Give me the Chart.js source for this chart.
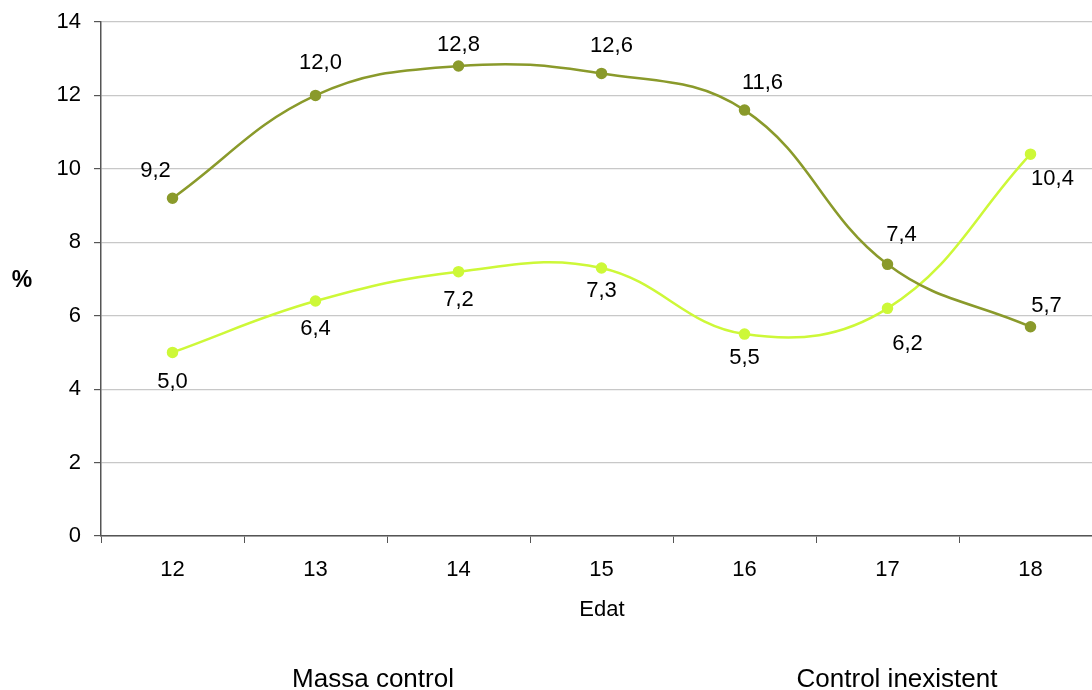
<!DOCTYPE html>
<html>
<head>
<meta charset="utf-8">
<script src="https://cdn.jsdelivr.net/npm/chart.js@4"></script>
<style>
    html, body { margin: 0; padding: 0; background: #fff; overflow: hidden; }
    #wrap { width: 1092px; height: 690px; overflow: hidden; position: relative; }
    canvas { display: block; }
</style>
</head>
<body>
<div id="wrap"><canvas id="chart" width="1110" height="690"></canvas></div>
<script>
// data
const ages = ['12', '13', '14', '15', '16', '17', '18'];
const massaControl = [9.2, 12.0, 12.8, 12.6, 11.6, 7.4, 5.7];
const controlInexistent = [5.0, 6.4, 7.2, 7.3, 5.5, 6.2, 10.4];
const yTicks = [0, 2, 4, 6, 8, 10, 12, 14];

const FONT = 'Arial, "Liberation Sans", sans-serif';

// small nudges for the value labels (excel had them moved around by hand)
const labelNudge = [
    [[-17, -27], [5, -32], [0, -21], [10, -27], [18, -27], [14, -29], [16, -21]],
    [[0, 30], [0, 28], [0, 28], [0, 23], [0, 24], [20, 36], [22, 25]]
];

// labels, axis titles and the text-only legend, all drawn after the chart
const extraText = {
    id: 'extraText',
    afterDatasetsDraw(chart) {
        const ctx = chart.ctx;
        const area = chart.chartArea;
        ctx.save();
        ctx.fillStyle = '#000';
        ctx.textAlign = 'center';
        ctx.textBaseline = 'middle';

        ctx.font = '22px ' + FONT;
        chart.data.datasets.forEach((ds, i) => {
            const meta = chart.getDatasetMeta(i);
            meta.data.forEach((pt, j) => {
                const txt = ds.data[j].toFixed(1).replace('.', ',');
                const n = labelNudge[i][j];
                ctx.fillText(txt, pt.x + n[0], pt.y + n[1]);
            });
        });

        // y title
        ctx.font = 'bold 23px ' + FONT;
        ctx.fillText('%', 22, (area.top + area.bottom) / 2 + 2);

        // x title
        ctx.font = '22px ' + FONT;
        ctx.fillText('Edat', 602, 610);

        // legend (text only)
        ctx.font = '26px ' + FONT;
        ctx.fillText(chart.data.datasets[0].label, 373, 680);
        ctx.fillText(chart.data.datasets[1].label, 897, 680);
        ctx.restore();
    }
};

const ctx = document.getElementById('chart').getContext('2d');
new Chart(ctx, {
    type: 'line',
    data: {
        labels: ages,
        datasets: [
            {
                label: 'Massa control',
                data: massaControl,
                borderColor: '#8a9a2b',
                backgroundColor: '#8a9a2b',
                borderWidth: 2.5,
                pointRadius: 4.5,
                pointHoverRadius: 4.5,
                tension: 0.4,
                fill: false
            },
            {
                label: 'Control inexistent',
                data: controlInexistent,
                borderColor: '#cdf838',
                backgroundColor: '#cdf838',
                borderWidth: 2.5,
                pointRadius: 4.5,
                pointHoverRadius: 4.5,
                tension: 0.4,
                fill: false
            }
        ]
    },
    options: {
        responsive: false,
        animation: false,
        layout: { padding: { top: 22, right: 8, left: 0, bottom: 0 } },
        plugins: {
            legend: { display: false },
            tooltip: { enabled: false }
        },
        scales: {
            x: {
                offset: true,
                grid: {
                    offset: true,
                    drawOnChartArea: false,
                    tickLength: 7,
                    tickColor: '#555',
                    tickWidth: 1
                },
                border: { color: '#555', width: 1.5 },
                ticks: {
                    color: '#000',
                    font: { family: FONT, size: 22 },
                    padding: 14,
                    maxRotation: 0
                },
                afterFit(scale) { scale.height = 690 - 536; }
            },
            y: {
                min: 0,
                max: 14,
                afterBuildTicks(scale) { scale.ticks = yTicks.map(v => ({ value: v })); },
                grid: {
                    color: '#c8c8c8',
                    lineWidth: 1.2,
                    tickLength: 7,
                    tickColor: '#555'
                },
                border: { color: '#555', width: 1.5 },
                ticks: {
                    color: '#000',
                    font: { family: FONT, size: 22 },
                    padding: 13
                },
                afterFit(scale) {
                    scale.width = 101;
                    scale.paddingTop = 0;
                    scale.paddingBottom = 0;
                }
            }
        }
    },
    plugins: [extraText]
});
</script>
</body>
</html>
